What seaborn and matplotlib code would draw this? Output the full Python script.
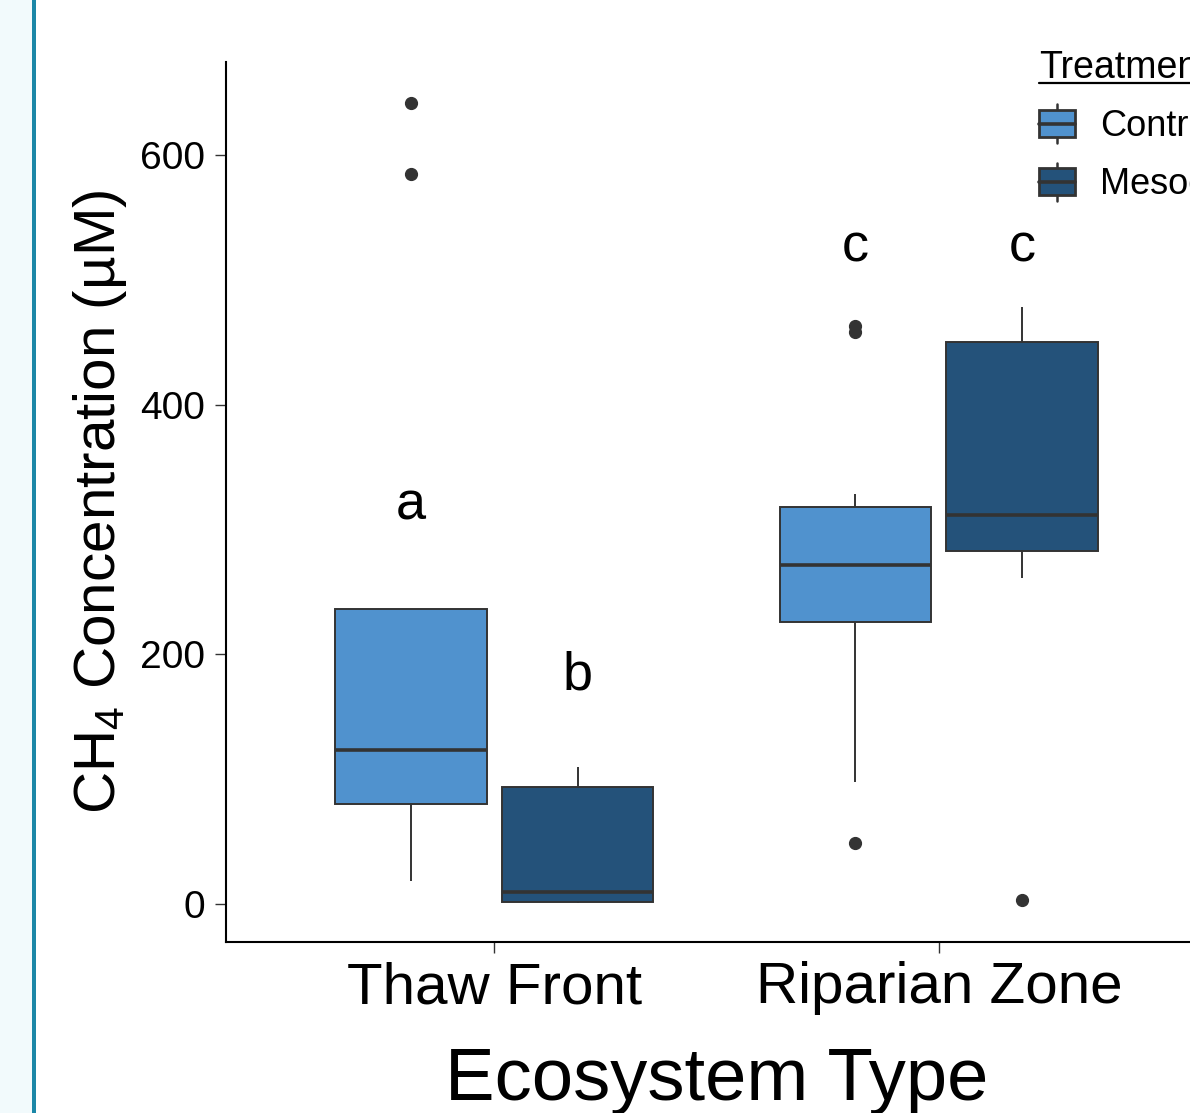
import numpy as np
import pandas as pd
import matplotlib
matplotlib.use('Agg')
import matplotlib.pyplot as plt
import seaborn as sns
from matplotlib.patches import Rectangle, Patch
from matplotlib.lines import Line2D
from matplotlib.legend_handler import HandlerBase

ecosystems = ['Thaw Front', 'Riparian Zone']
treatments = ['Control', 'Mesocosm']

thaw_control = [18.7, 50, 80.1, 100, 123.4, 180, 236.4, 585, 641.8]
thaw_meso = [0.5, 1.4, 9.9, 94, 109.5]
riparian_control = [48.6, 97.5, 150, 226, 240, 260, 272, 290, 305, 318.3, 328.5, 458, 463]
riparian_meso = [3.2, 261, 282.9, 295, 311.7, 400, 450.5, 470, 478]

# significance letters (baseline height in data units)
letters = ['a', 'b', 'c', 'c']
letter_y = [308, 172, 515, 515]

COLORS = {'Control': '#5092CE', 'Mesocosm': '#24527A'}
EDGE = '#333333'

rows = []
for eco, tr, vals in [('Thaw Front', 'Control', thaw_control),
                      ('Thaw Front', 'Mesocosm', thaw_meso),
                      ('Riparian Zone', 'Control', riparian_control),
                      ('Riparian Zone', 'Mesocosm', riparian_meso)]:
    for v in vals:
        rows.append({'ecosystem': eco, 'treatment': tr, 'value': v})
df = pd.DataFrame(rows)

sns.set_theme(style='ticks')
plt.rcParams['font.family'] = ['Liberation Sans', 'DejaVu Sans']
plt.rcParams['mathtext.fontset'] = 'custom'
plt.rcParams['mathtext.rm'] = 'Liberation Sans'
plt.rcParams['mathtext.default'] = 'regular'
plt.rcParams['text.color'] = 'black'
plt.rcParams['axes.labelcolor'] = 'black'
plt.rcParams['xtick.labelcolor'] = 'black'
plt.rcParams['ytick.labelcolor'] = 'black'


class BoxKeyHandler(HandlerBase):
    """ggplot-like boxplot legend key."""
    def create_artists(self, legend, orig_handle, xdescent, ydescent,
                       width, height, fontsize, trans):
        cx = width / 2 - xdescent
        y0 = -ydescent
        ext = height * 0.22
        vline = Line2D([cx, cx], [y0 - ext, y0 + height + ext],
                       color=EDGE, lw=1.8, transform=trans)
        rect = Rectangle((-xdescent, y0), width, height,
                         facecolor=orig_handle.get_facecolor(),
                         edgecolor=EDGE, lw=2.0, transform=trans)
        med = Line2D([-xdescent, -xdescent + width], [y0 + height / 2] * 2,
                     color=EDGE, lw=2.6, transform=trans)
        return [vline, rect, med]


fig = plt.figure(figsize=(11.9, 11.13), dpi=100)

# page background strip on the left
fig.patches.append(Rectangle((0, 0), 32 / 1190, 1, transform=fig.transFigure,
                             facecolor='#F2FAFC', edgecolor='none', zorder=-2))
fig.patches.append(Rectangle((32 / 1190, 0), 4 / 1190, 1, transform=fig.transFigure,
                             facecolor='#1B87A7', edgecolor='none', zorder=-1))

ax = fig.add_axes([226 / 1190, 171 / 1113, 981 / 1190, 880 / 1113])

sns.boxplot(data=df, x='ecosystem', y='value', hue='treatment',
            order=ecosystems, hue_order=treatments, palette=COLORS,
            width=0.75, gap=0.09, saturation=1, linecolor=EDGE, linewidth=1.4,
            showcaps=False,
            flierprops=dict(marker='o', markersize=8.5, markerfacecolor=EDGE,
                            markeredgecolor=EDGE),
            medianprops=dict(linewidth=2.6, color=EDGE),
            whiskerprops=dict(linewidth=1.4, color=EDGE),
            legend=False, ax=ax)

offsets = [-0.1875, 0.1875]
i = 0
for e in range(len(ecosystems)):
    for t in range(len(treatments)):
        ax.text(e + offsets[t], letter_y[i], letters[i], ha='center',
                va='baseline', fontsize=39, color='black')
        i += 1

ax.set_xlim(-0.603, 1.603)
ax.set_ylim(-30.4, 674.7)
ax.set_yticks([0, 200, 400, 600])

for s in ['top', 'right']:
    ax.spines[s].set_visible(False)
for s in ['left', 'bottom']:
    ax.spines[s].set_color('black')
    ax.spines[s].set_linewidth(1.5)

ax.tick_params(axis='both', length=8, width=1, color=EDGE, pad=7)
ax.tick_params(axis='y', labelsize=28)
ax.tick_params(axis='x', labelsize=42, pad=6)

ax.set_xlabel('Ecosystem Type', fontsize=53.5, labelpad=22)
ax.set_ylabel('CH$_4$ Concentration (µM)', fontsize=42, labelpad=8)

handles = [Patch(facecolor=COLORS[t], edgecolor=EDGE) for t in treatments]
leg = fig.legend(handles=handles, labels=treatments,
                 handler_map={Patch: BoxKeyHandler()},
                 title='Treatment', loc='upper left',
                 bbox_to_anchor=(1039 / 1190, 1 - 50 / 1113),
                 frameon=False, fontsize=26, title_fontsize=27,
                 alignment='left', handlelength=1.0, handleheight=0.75,
                 handletextpad=0.7, labelspacing=0.64,
                 borderpad=0, borderaxespad=0)

# underline the legend title
fig.canvas.draw()
bb = leg.get_title().get_window_extent()
inv = fig.transFigure.inverted()
(x0, y0), (x1, _) = inv.transform([(bb.x0, bb.y0 + 3), (bb.x1, bb.y0 + 3)])
fig.add_artist(Line2D([x0, x1], [y0, y0], transform=fig.transFigure,
                      color='black', lw=1.6))

fig.savefig('out.png', dpi=100)
